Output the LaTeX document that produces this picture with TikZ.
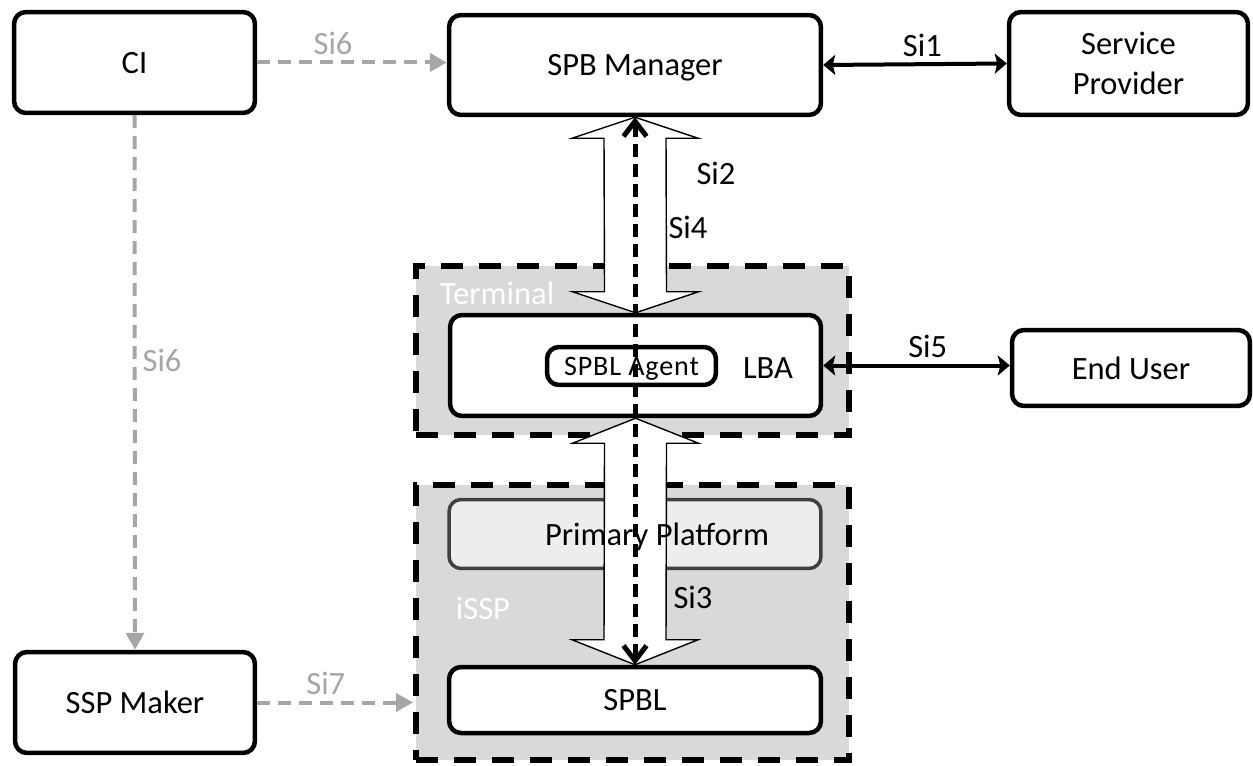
\documentclass[tikz,border=0pt]{standalone}
\usepackage{fontspec}
\setmainfont{Carlito}
\usepackage{tikz}
\usetikzlibrary{arrows.meta,calc}

\definecolor{regiongray}{HTML}{D9D9D9}
\definecolor{linkgray}{HTML}{A6A6A6}
\definecolor{ppgray}{HTML}{EDEDED}
\definecolor{ppborder}{HTML}{404040}

\begin{document}
\begin{tikzpicture}[x=0.02cm,y=0.02cm,
  font=\fontsize{18.5}{22.7}\selectfont,
  box/.style={draw,line width=0.09cm,rounded corners=0.24cm,fill=white,align=center,text depth=0pt},
  region/.style={draw,fill=regiongray,line width=0.12cm,dash pattern=on 0.44cm off 0.32cm},
  fatarrow/.style={draw,fill=white,line width=0.8pt},
  link/.style={line width=0.08cm,{Stealth[length=0.24cm,width=0.4cm,inset=0.05cm]}-{Stealth[length=0.24cm,width=0.4cm,inset=0.05cm]}},
  greylink/.style={draw=linkgray,line width=0.08cm,dash pattern=on 0.26cm off 0.16cm,-{Triangle[length=0.34cm,width=0.36cm]}},
  sidash/.style={line width=0.1cm,dash pattern=on 0.26cm off 0.14cm,{Straight Barb[length=0.3cm,width=0.46cm]}-{Straight Barb[length=0.3cm,width=0.46cm]}}]
  \useasboundingbox (0,0) rectangle (1253,765);

  % Terminal and iSSP areas
  \node[region, minimum width=8.66cm, minimum height=3.38cm] (term) at (632.5,414.5) {};
  \node[region, minimum width=8.66cm, minimum height=5.5cm] (issp) at (632.5,142.5) {};
  \node[white, anchor=west] (termlabel) at (434,472) {Terminal};
  \node[white] (issplabel) at (483,157) {iSSP};

  % Boxes
  \node[box, minimum width=4.82cm, minimum height=2.02cm] (ci) at (134.5,702.5) {CI};
  \node[box, minimum width=7.44cm, minimum height=2cm] (mgr) at (635,700) {SPB Manager};
  \node[box, minimum width=4.78cm, minimum height=2.06cm] (sp) at (1128.5,701.5) {Service\\Provider};
  \node[box, minimum width=7.42cm, minimum height=2.02cm] (lba) at (635.5,399.5) {};
  \node[box, minimum width=3.38cm, minimum height=0.76cm,
        font=\fontsize{16}{19}\selectfont\addfontfeatures{LetterSpace=3}] (agent) at (631.5,399) {SPBL Agent};
  \node (lbatext) at (768,397) {LBA};
  \node[box, minimum width=4.76cm, minimum height=1.52cm] (eu) at (1131,397) {End User};
  \node[box, draw=ppborder, fill=ppgray, line width=0.07cm, minimum width=7.44cm, minimum height=1.38cm] (pp) at (635,231) {};
  \node[box, minimum width=7.44cm, minimum height=1.32cm] (spbl) at (635,65) {SPBL};
  \node[box, minimum width=4.8cm, minimum height=2.02cm] (ssp) at (135,62.5) {SSP Maker};

  % Si2 and Si3 (fat double arrows)
  \draw[fatarrow] (mgr.south) -- ++(63,-21) -- ++(-32,0) -- ($(lba.north)+(31,21)$) -- ++(32,0) -- (lba.north)
    -- ++(-63,21) -- ++(32,0) -- ($(mgr.south)+(-31,-21)$) -- ++(-32,0) -- cycle;
  \draw[fatarrow] (lba.south) -- ++(63,-25) -- ++(-32,0) -- ($(spbl.north)+(31,25)$) -- ++(32,0) -- (spbl.north)
    -- ++(-63,25) -- ++(32,0) -- ($(lba.south)+(-31,-25)$) -- ++(-32,0) -- cycle;
  \node (pptext) at ($(pp.center)+(22,-3)$) {Primary Platform};

  % Si4
  \draw[sidash] (mgr.south) -- (spbl.north);

  \node (si2) at (716,592) {Si2};
  \node (si4) at (688,538) {Si4};
  \node (si3) at (693,168) {Si3};

  % Links
  \draw[link] (mgr.east) -- (sp.west) node[pos=0.54, above] (si1) {Si1};
  \draw[link] (lba.east) -- (lba.east -| eu.west) node[pos=0.56, above] (si5) {Si5};
  \draw[greylink] (ci.east) -- (ci.east -| mgr.west) node[pos=0.4, above, text=linkgray] (si6a) {Si6};
  \draw[greylink] (ci.south) -- (ssp.north) node[pos=0.458, right, text=linkgray] (si6b) {Si6};
  \draw[greylink] (ssp.east) -- (ssp.east -| issp.west) node[pos=0.44, above, text=linkgray] (si7) {Si7};
\end{tikzpicture}
\end{document}
